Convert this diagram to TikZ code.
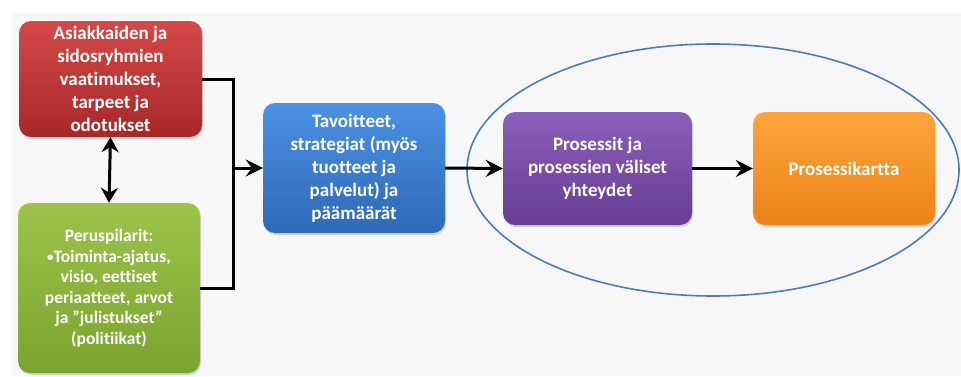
\documentclass[tikz,border=0pt]{standalone}
\usepackage{fontspec}
\setmainfont{Carlito}[Ligatures=NoCommon]
\usetikzlibrary{arrows.meta,shadows}
\definecolor{redtop}{HTML}{D44848}
\definecolor{redbot}{HTML}{A62828}
\definecolor{greentop}{HTML}{9CC44C}
\definecolor{greenbot}{HTML}{79A42E}
\definecolor{bluetop}{HTML}{4C91E2}
\definecolor{bluebot}{HTML}{2D69B6}
\definecolor{purpletop}{HTML}{8C5FBA}
\definecolor{purplebot}{HTML}{673C92}
\definecolor{orangetop}{HTML}{FCA53E}
\definecolor{orangebot}{HTML}{EC8317}
\definecolor{ringblue}{HTML}{4A7EBB}
\definecolor{panel}{HTML}{F7F7F7}
\newcommand{\smallbullet}{{\fontsize{13}{13}\selectfont\raisebox{1pt}{•}}}
\tikzset{
  box/.style={rounded corners=12pt, inner sep=0pt, align=center,
    text=white, font=\fontsize{19}{23}\selectfont\bfseries,
    drop shadow={shadow xshift=1pt, shadow yshift=-2pt, opacity=0.3}},
  flow/.style={line width=3pt, -{Stealth[length=17pt,width=17pt,inset=6pt]}},
  link/.style={line width=3pt},
}
\begin{document}
\begin{tikzpicture}[x=1pt,y=1pt]
  \useasboundingbox (0,0) rectangle (961,376);
  \fill[white] (0,0) rectangle (961,376);
  \fill[panel] (12,0) rectangle (961,363);

  % grouping ring around the process part
  \draw[ringblue, line width=1.6pt] (713,206) ellipse [x radius=246, y radius=126];

  % boxes
  \node[box, top color=redtop, bottom color=redbot, minimum width=183pt, minimum height=116pt]
    (needs) at (110.5,297) {Asiakkaiden ja\\sidosryhmien\\vaatimukset,\\tarpeet ja\\odotukset};
  \node[box, top color=greentop, bottom color=greenbot, minimum width=182pt, minimum height=170pt,
    font=\fontsize{17.5}{20.5}\selectfont\bfseries]
    (pillars) at (109,88) {Peruspilarit:\\\smallbullet Toiminta-ajatus,\\visio, eettiset\\periaatteet, arvot\\ja ”julistukset”\\(politiikat)};
  \node[box, top color=bluetop, bottom color=bluebot, minimum width=182pt, minimum height=130pt]
    (goals) at (354,208) {Tavoitteet,\\strategiat (myös\\tuotteet ja\\palvelut) ja\\päämäärät};
  \node[box, top color=purpletop, bottom color=purplebot, minimum width=189pt, minimum height=113pt]
    (proc) at (597.5,207.5) {Prosessit ja\\prosessien väliset\\yhteydet};
  \node[box, top color=orangetop, bottom color=orangebot, minimum width=182pt, minimum height=113pt]
    (map) at (844,207.5) {Prosessikartta};

  % joining line from the two left boxes into the goals box
  \coordinate (bend) at (233,208);
  \draw[link] (needs.east) -- (needs.east -| bend) -- (pillars.east -| bend) -- (pillars.east);
  \draw[flow] (bend) -- (goals.west);
  \draw[flow] (goals.east) -- (proc.west);
  \draw[flow] (proc.east) -- (map.west);
  \draw[line width=3pt, {Stealth[length=15pt,width=17pt,inset=5pt]}-{Stealth[length=15pt,width=17pt,inset=5pt]}]
    (needs.south) -- (pillars.north);
\end{tikzpicture}
\end{document}
